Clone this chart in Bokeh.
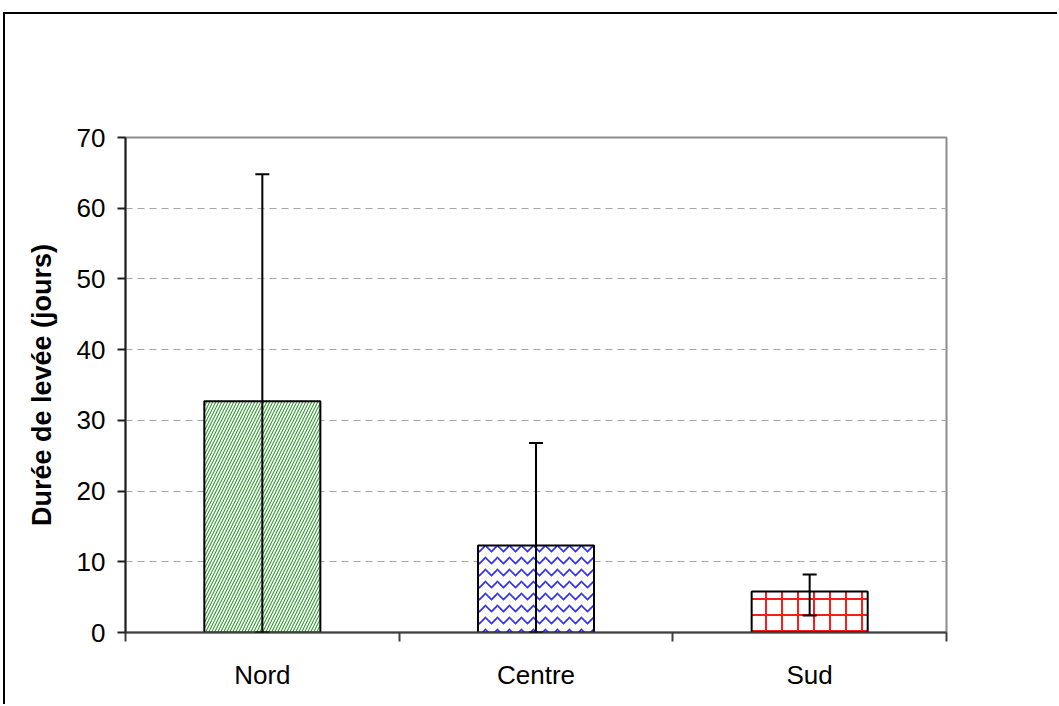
from bokeh.plotting import figure
from bokeh.models import ColumnDataSource, Whisker, TeeHead, FixedTicker
from bokeh.embed import file_html
from bokeh.resources import INLINE

categories = ["Nord", "Centre", "Sud"]
means = [32.7, 12.3, 5.8]
err_upper = [64.8, 26.8, 8.2]
err_lower = [0.0, 0.0, 2.4]
hatch_patterns = ["right_diagonal_line", "horizontal_wave", "cross"]
hatch_colors = ["#339933", "#2b2bff", "#ff1a1a"]
hatch_scales = [6, 12, 16]
hatch_weights = [1.1, 1.6, 2.0]
y_ticks = [0, 10, 20, 30, 40, 50, 60, 70]

xpos = [i + 0.5 for i in range(len(categories))]

src = ColumnDataSource(dict(x=xpos, top=means, upper=err_upper, lower=err_lower,
                            hp=hatch_patterns, hc=hatch_colors, hs=hatch_scales, hw=hatch_weights))

p = figure(width=1054, height=692, x_range=(0, 3), y_range=(0, 70),
           output_backend="svg", toolbar_location=None,
           min_border_left=120, min_border_right=113, min_border_top=123, min_border_bottom=74,
           margin=(12, 0, 0, 3))
p.styles = {"border-left": "2px solid black", "border-top": "2px solid black"}
p.background_fill_color = "white"
p.border_fill_color = "white"
p.outline_line_color = "#8c8c8c"
p.outline_line_width = 2

p.vbar(x="x", top="top", bottom=0, width=0.424, source=src,
       fill_color="white", line_color="black", line_width=2,
       hatch_pattern="hp", hatch_color="hc", hatch_scale="hs", hatch_weight="hw")

w = Whisker(base="x", upper="upper", lower="lower", source=src,
            line_color="black", line_width=2, level="overlay",
            upper_head=TeeHead(size=14, line_width=2, line_color="black"),
            lower_head=TeeHead(size=14, line_width=2, line_color="black"))
p.add_layout(w)

# axes
p.xaxis.ticker = FixedTicker(ticks=xpos, minor_ticks=[0, 1, 2, 3])
p.xaxis.major_label_overrides = {x: c for x, c in zip(xpos, categories)}
p.xaxis.major_tick_out = 0
p.xaxis.major_tick_in = 0
p.xaxis.minor_tick_out = 9
p.xaxis.minor_tick_in = 0
p.xaxis.minor_tick_line_color = "#404040"
p.xaxis.minor_tick_line_width = 2
p.xaxis.axis_line_color = "#404040"
p.xaxis.axis_line_width = 2
p.xaxis.major_label_text_font = "Liberation Sans"
p.xaxis.major_label_text_font_size = "26px"
p.xaxis.major_label_text_color = "black"
p.xaxis.major_label_standoff = 18

p.yaxis.ticker = FixedTicker(ticks=y_ticks)
p.yaxis.major_tick_out = 8
p.yaxis.major_tick_in = 0
p.yaxis.minor_tick_line_color = None
p.yaxis.major_tick_line_color = "#202020"
p.yaxis.major_tick_line_width = 2
p.yaxis.axis_line_color = "#202020"
p.yaxis.axis_line_width = 2
p.yaxis.major_label_text_font = "Liberation Sans"
p.yaxis.major_label_text_font_size = "26px"
p.yaxis.major_label_text_color = "black"
p.yaxis.major_label_standoff = 12
p.yaxis.axis_label = "Durée de levée (jours)"
p.yaxis.axis_label_text_font = "Liberation Sans"
p.yaxis.axis_label_text_font_style = "bold"
p.yaxis.axis_label_text_font_size = "27px"
p.yaxis.axis_label_text_color = "black"
p.yaxis.axis_label_standoff = 17

p.xgrid.grid_line_color = None
p.ygrid.grid_line_color = "#a6a6a6"
p.ygrid.grid_line_dash = "7 5"
p.ygrid.grid_line_width = 1

open("out.html", "w").write(file_html(p, INLINE))
